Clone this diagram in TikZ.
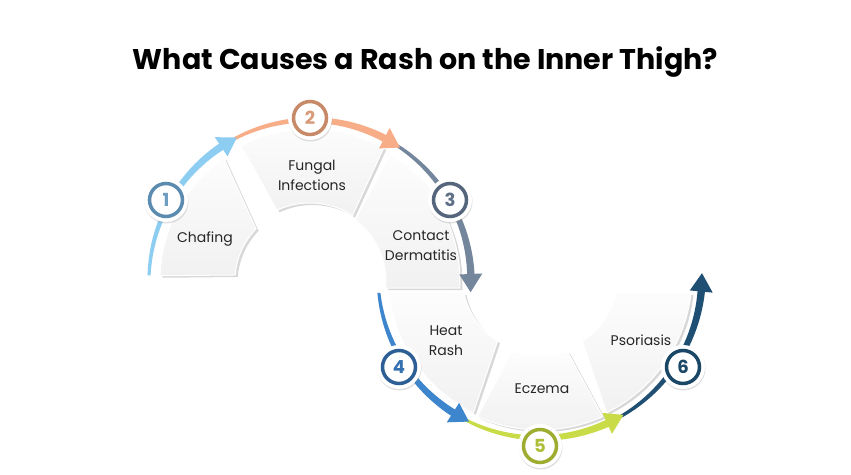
\documentclass[tikz,border=0pt]{standalone}
\usepackage{fontspec}
\setmainfont{Poppins}
\usepackage{tikz}
\usetikzlibrary{shadows}
\definecolor{arrowA}{HTML}{8DCDF2}
\definecolor{arrowB}{HTML}{F7AD88}
\definecolor{arrowC}{HTML}{73869C}
\definecolor{arrowD}{HTML}{3D85CC}
\definecolor{arrowE}{HTML}{C9DC48}
\definecolor{arrowF}{HTML}{1F4F73}
\definecolor{ringA}{HTML}{5B8CB0}
\definecolor{numA}{HTML}{6E9DC0}
\definecolor{ringB}{HTML}{C68A69}
\definecolor{numB}{HTML}{D99B7A}
\definecolor{ringC}{HTML}{54657C}
\definecolor{numC}{HTML}{5E6F86}
\definecolor{ringD}{HTML}{2D5E95}
\definecolor{numD}{HTML}{3570B0}
\definecolor{ringE}{HTML}{9EAD2F}
\definecolor{numE}{HTML}{AEBE38}
\definecolor{ringF}{HTML}{1B4766}
\definecolor{numF}{HTML}{1B4766}
\definecolor{labeltext}{HTML}{262626}
\tikzset{
  sector/.style={top color=gray!2, bottom color=gray!11, draw=white, line width=1pt,
    drop shadow={opacity=0.3, shadow xshift=2.5pt, shadow yshift=-2pt}},
  causelabel/.style={align=center, text=labeltext, font=\fontsize{14}{20}\selectfont},
  numc/.style 2 args={circle, fill=white, minimum size=44pt, inner sep=0pt,
    drop shadow={opacity=0.25, shadow xshift=0.5pt, shadow yshift=-1.5pt},
    text=#2, font=\fontsize{18}{18}\selectfont\bfseries,
    path picture={\draw[#1, line width=3.5pt] (path picture bounding box.center) circle[radius=16.5pt];}}
}

\begin{document}
\begin{tikzpicture}[x=1pt,y=1pt]
        \useasboundingbox[fill=white] (0,0) rectangle (851,474);

        \node[anchor=base, font=\fontsize{28.5}{28.5}\selectfont\bfseries] (title) at (425.5,404) {What Causes a Rash on the Inner Thigh?};

        \begin{scope}[shift={(310,193)}]
            \path[sector] (178:150) arc[start angle=178, end angle=125, radius=150] -- (136:75) arc[start angle=136, end angle=175.4, radius=75] -- cycle;
            \path[sector] (117:152) arc[start angle=117, end angle=61, radius=152] -- (57:78) arc[start angle=57, end angle=115, radius=78] -- cycle;
            \path[sector] (57.6:150) arc[start angle=57.6, end angle=-2.7, radius=150] -- (-5.3:76) arc[start angle=-5.3, end angle=53.6, radius=76] -- cycle;
        \end{scope}
        \begin{scope}[shift={(540,198)}]
            \path[sector] (186.4:152) arc[start angle=186.4, end angle=244, radius=152] -- (237:78) arc[start angle=237, end angle=192.6, radius=78] -- cycle;
            \path[sector] (246:154) arc[start angle=246, end angle=294, radius=154] -- (290:80) arc[start angle=290, end angle=250, radius=80] -- cycle;
            \path[sector] (353.6:152) arc[start angle=353.6, end angle=296, radius=152] -- (303:78) arc[start angle=303, end angle=347.4, radius=78] -- cycle;
        \end{scope}

        \foreach \cx/\cy/\rr/\s/\m/\e/\col in {540/198/162/299/354.5/361/arrowF, 540/198/162/242/294.5/301/arrowE, 540/198/162/186/237.5/244/arrowD, 310/193/161/59/2.5/-4/arrowC, 310/193/161/120/62.5/56/arrowB, 310/193/161/178/123.5/117/arrowA}
        {
            \begin{scope}[shift={(\cx,\cy)}]
                \fill[\col] plot[domain=\s:\m, samples=30, variable=\x] (\x:{\rr+1.5+2.2*(\x-\s)/(\m-\s)})
                    -- (\m:{\rr+11.5}) -- (\e:\rr) -- (\m:{\rr-11.5})
                    -- plot[domain=\m:\s, samples=30, variable=\x] (\x:{\rr-1.5-2.2*(\x-\s)/(\m-\s)}) -- cycle;
            \end{scope}
        }

        \node[causelabel] (chafing) at (205,235) {Chafing};
        \node[causelabel] (fungal) at (312,299) {Fungal\\Infections};
        \node[causelabel] (contact) at (421,228) {Contact\\Dermatitis};
        \node[causelabel] (heat) at (446,133) {Heat\\Rash};
        \node[causelabel] (eczema) at (542,85) {Eczema};
        \node[causelabel] (psoriasis) at (641,134) {Psoriasis};

        \node[numc={ringA}{numA}] (n1) at (166,274) {1};
        \node[numc={ringB}{numB}] (n2) at (310,356) {2};
        \node[numc={ringC}{numC}] (n3) at (450,274) {3};
        \node[numc={ringD}{numD}] (n4) at (399,107) {4};
        \node[numc={ringE}{numE}] (n5) at (540,28) {5};
        \node[numc={ringF}{numF}] (n6) at (683,107) {6};
\end{tikzpicture}
\end{document}
